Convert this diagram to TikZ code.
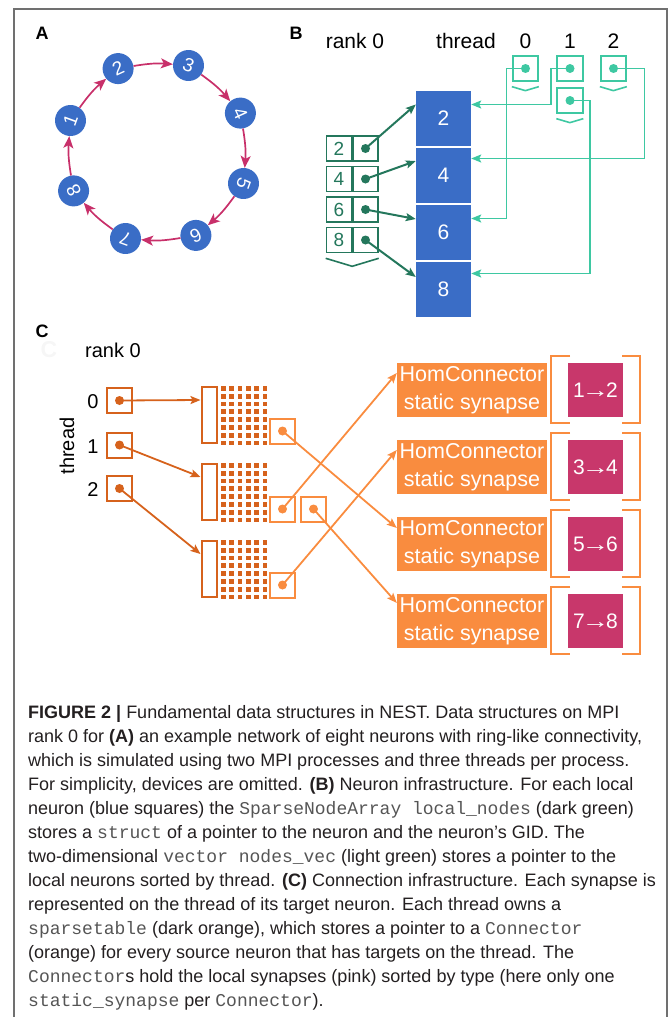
\documentclass[tikz,border=0pt]{standalone}
\usepackage{fontspec}
\setmainfont{Liberation Sans}
\setmonofont{Liberation Mono}
\usetikzlibrary{arrows.meta}
\definecolor{nblue}{HTML}{3A6DC6}
\definecolor{ringred}{HTML}{C8306A}
\definecolor{lgreen}{HTML}{3EC8A2}
\definecolor{dgreen}{HTML}{24775C}
\definecolor{dorange}{HTML}{D6621C}
\definecolor{lorange}{HTML}{F98C3F}
\definecolor{spink}{HTML}{C8376B}
\definecolor{captxt}{HTML}{231F20}
\definecolor{monotxt}{HTML}{555555}
\definecolor{framec}{HTML}{707070}
\newcommand{\mcode}[1]{{\ttfamily\color{monotxt}#1}}
\newcommand{\fsz}[2]{\fontsize{#1}{#2}\selectfont}
\newcommand{\larr}{\kern-3pt\scalebox{1.3}[1]{→}\kern-3pt}
\begin{document}
\begin{tikzpicture}[x=1pt,y=-1pt,
 plabel/.style={font=\bfseries\fsz{18}{18},inner sep=0,text=black},
 neuron/.style={circle,fill=nblue,minimum size=31pt,inner sep=0,text=white,font=\fsz{19}{19}},
 ring/.style={ringred,line width=1.7pt,-{Stealth[length=12pt,width=10pt,inset=3pt]}},
 hdr/.style={font=\fsz{21}{21},inner sep=0,anchor=base,text=black},
 tbox/.style={draw=lgreen,line width=1.8pt,minimum size=25.5pt,inner sep=0},
 lgarrow/.style={lgreen,line width=1.8pt,-{Stealth[length=10pt,width=8pt,inset=2pt]}},
 nbox/.style={fill=nblue,minimum size=55pt,inner sep=0,text=white,font=\fsz{21}{21}},
 lcell/.style={draw=dgreen,line width=1.6pt,minimum size=25pt,inner sep=0,text=dgreen,font=\fsz{19}{19}},
 dgarrow/.style={dgreen,line width=2pt,-{Stealth[length=10pt,width=8pt,inset=2pt]}},
 dbox/.style={draw=dorange,line width=2pt,minimum size=25pt,inner sep=0},
 strect/.style={draw=dorange,line width=2pt,minimum width=15pt,minimum height=56pt,inner sep=0},
 obox/.style={draw=lorange,line width=2pt,minimum size=25pt,inner sep=0},
 doarrow/.style={dorange,line width=1.8pt,-{Stealth[length=10pt,width=8pt,inset=2pt]}},
 loarrow/.style={lorange,line width=1.8pt,-{Stealth[length=10pt,width=8pt,inset=2pt]}},
 hom/.style={fill=lorange,text=white,minimum width=150pt,minimum height=54pt,inner sep=0,align=center,font=\fsz{21.5}{28}},
 syn/.style={fill=spink,text=white,minimum width=55pt,minimum height=54pt,inner sep=0,font=\fsz{21}{21}},
 brk/.style={lorange,line width=2pt},
 captext/.style={anchor=base west,inner sep=0,text=captxt,font=\fsz{18}{24}},
]
\useasboundingbox (0,0) rectangle (670,1017);
\draw[framec,line width=1.2pt] (14,1030) -- (14,9) -- (667,9) -- (667,1030);

% ---------------- Panel A
\node[plabel] (lA) at (42,33) {A};
\node[neuron,rotate=25]   (n2) at (118.1,68.6) {2};
\node[neuron,rotate=-20]  (n3) at (188.5,65.5) {3};
\node[neuron,rotate=-65]  (n4) at (240.4,113.1) {4};
\node[neuron,rotate=-110] (n5) at (243.5,183.5) {5};
\node[neuron,rotate=-155] (n6) at (195.9,235.4) {6};
\node[neuron,rotate=160]  (n7) at (125.5,238.5) {7};
\node[neuron,rotate=115]  (n8) at (73.6,190.9) {8};
\node[neuron,rotate=70]   (n1) at (70.5,120.5) {1};
\foreach \a/\b in {1/2,2/3,3/4,4/5,5/6,6/7,7/8,8/1}
  \draw[ring] (n\a) to[bend left=7] (n\b);

% ---------------- Panel B
\node[plabel] (lB) at (296,33) {B};
\node[hdr] (rankB) at (355,48) {rank 0};
\node[hdr] (thrB) at (466,48) {thread};
\node[hdr] (tn0) at (525.5,48) {0};
\node[hdr] (tn1) at (570,48) {1};
\node[hdr] (tn2) at (613.5,48) {2};

\node[tbox] (t0)  at (525.5,68.5) {};
\node[tbox] (t1a) at (570,68.5) {};
\node[tbox] (t1b) at (570,100.5) {};
\node[tbox] (t2)  at (613.5,68.5) {};
\foreach \t in {t0,t2,t1b}
  \draw[lgreen,line width=1.6pt] (\t.south west) ++(0,4.5) -- ++(13.5,4) -- ++(13.5,-4);

\node[nbox] (b2) at (443.5,118.5) {2};
\node[nbox] (b4) at (443.5,175.5) {4};
\node[nbox] (b6) at (443.5,232.5) {6};
\node[nbox] (b8) at (443.5,289.5) {8};

\draw[lgarrow] (t0.center) -- ++(-19,0) |- ([yshift=14pt]b6.east);
\draw[lgarrow] (t1a.center) -- ++(-19,0) |- ([yshift=14pt]b2.east);
\draw[lgarrow] (t1b.center) -- ++(20,0) |- ([yshift=16pt]b8.east);
\draw[lgarrow] (t2.center) -- ++(31,0) |- ([yshift=17pt]b4.east);
\foreach \t in {t0,t1a,t1b,t2}
  \fill[lgreen] (\t.center) circle (4.5);

\foreach \v/\y in {2/148.5,4/179,6/209.5,8/240}{
  \node[lcell] (l\v n) at (339,\y) {\v};
  \node[lcell] (l\v p) at (365.5,\y) {};
}
\draw[dgreen,line width=1.6pt] (l8n.south west) ++(0,5) -- ++(26.5,8) -- ++(26.5,-8);
\draw[dgarrow] (l2p.center) -- ([yshift=14pt]b2.west);
\draw[dgarrow] (l4p.center) -- ([yshift=14.5pt]b4.west);
\draw[dgarrow] (l6p.center) -- ([yshift=13.5pt]b6.west);
\draw[dgarrow] (l8p.center) -- ([yshift=12.5pt]b8.west);
\foreach \v in {2,4,6,8}
  \fill[dgreen] (l\v p.center) circle (4.5);

% ---------------- Panel C
\node[plabel] (lC) at (42,331) {C};
\node[font=\bfseries\fsz{23}{23},text=gray!7,inner sep=0] (ghostC) at (49,350) {C};
\node[hdr,font=\fsz{20}{20}] (rankC) at (113,357) {rank 0};
\node[font=\fsz{20}{20},rotate=90,inner sep=0] (thrC) at (67,446) {thread};
\node[font=\fsz{20}{20},inner sep=0] (cn0) at (93,402) {0};
\node[font=\fsz{20}{20},inner sep=0] (cn1) at (93,447) {1};
\node[font=\fsz{20}{20},inner sep=0] (cn2) at (93,490) {2};

\node[dbox] (th0) at (119.5,400.5) {};
\node[dbox] (th1) at (119.5,445) {};
\node[dbox] (th2) at (119.5,488.5) {};

\node[strect] (s0) at (209,415) {};
\node[strect] (s1) at (209,492) {};
\node[strect] (s2) at (209,569) {};
\foreach \top in {386,463,540}
  \foreach \c in {0,...,5}
    \foreach \r in {0,...,7}
      \fill[dorange] (221+8.33*\c,\top+7.8*\r) rectangle ++(4.7,4.7);

\node[obox] (c0)  at (282.5,431) {};
\node[obox] (c1a) at (282.5,509) {};
\node[obox] (c1b) at (313.5,509) {};
\node[obox] (c2)  at (282.5,585) {};

\node[hom] (h0) at (472,390) {HomConnector\\static synapse};
\node[hom] (h1) at (472,467) {HomConnector\\static synapse};
\node[hom] (h2) at (472,544) {HomConnector\\static synapse};
\node[hom] (h3) at (472,621) {HomConnector\\static synapse};

\node[syn] (p0) at (595.5,390) {1\larr2};
\node[syn] (p1) at (595.5,467) {3\larr4};
\node[syn] (p2) at (595.5,544) {5\larr6};
\node[syn] (p3) at (595.5,621) {7\larr8};
\foreach \i in {0,1,2,3}{
  \draw[brk] (p\i.center) ++(-25.5,-34) -- ++(-19,0) -- ++(0,67) -- ++(19,0);
  \draw[brk] (p\i.center) ++(26.5,-34) -- ++(18,0) -- ++(0,67) -- ++(-18,0);
}

\draw[doarrow] (th0.center) -- ([yshift=15pt]s0.west);
\draw[doarrow] (th1.center) -- ([yshift=15pt]s1.west);
\draw[doarrow] (th2.center) -- ([yshift=15pt]s2.west);
\foreach \t in {th0,th1,th2}
  \fill[dorange] (\t.center) circle (4.5);

\draw[loarrow] (c0.center) -- ([yshift=16pt]h2.west);
\draw[loarrow] (c1a.center) -- ([yshift=17pt]h0.west);
\draw[loarrow] (c1b.center) -- ([yshift=18pt]h3.west);
\draw[loarrow] (c2.center) -- ([yshift=17pt]h1.west);
\foreach \t in {c0,c1a,c1b,c2}
  \fill[lorange] (\t.center) circle (4.5);

% ---------------- Caption
\node[captext] (cap1) at (28,718) {\textbf{FIGURE 2 |} Fundamental data structures in NEST. Data structures on MPI};
\node[captext] (cap2) at (28,742) {rank 0 for \textbf{(A)} an example network of eight neurons with ring-like connectivity,};
\node[captext] (cap3) at (28,766) {which is simulated using two MPI processes and three threads per process.};
\node[captext] (cap4) at (28,790) {For simplicity, devices are omitted. \textbf{(B)} Neuron infrastructure. For each local};
\node[captext] (cap5) at (28,814) {neuron (blue squares) the \mcode{SparseNodeArray local\_nodes} (dark green)};
\node[captext] (cap6) at (28,838) {stores a \mcode{struct} of a pointer to the neuron and the neuron’s GID. The};
\node[captext] (cap7) at (28,862) {two-dimensional \mcode{vector nodes\_vec} (light green) stores a pointer to the};
\node[captext] (cap8) at (28,886) {local neurons sorted by thread. \textbf{(C)} Connection infrastructure. Each synapse is};
\node[captext] (cap9) at (28,910) {represented on the thread of its target neuron. Each thread owns a};
\node[captext] (cap10) at (28,934) {\mcode{sparsetable} (dark orange), which stores a pointer to a \mcode{Connector}};
\node[captext] (cap11) at (28,958) {(orange) for every source neuron that has targets on the thread. The};
\node[captext] (cap12) at (28,982) {\mcode{Connector}s hold the local synapses (pink) sorted by type (here only one};
\node[captext] (cap13) at (28,1006) {\mcode{static\_synapse} per \mcode{Connector}).};
\end{tikzpicture}
\end{document}
